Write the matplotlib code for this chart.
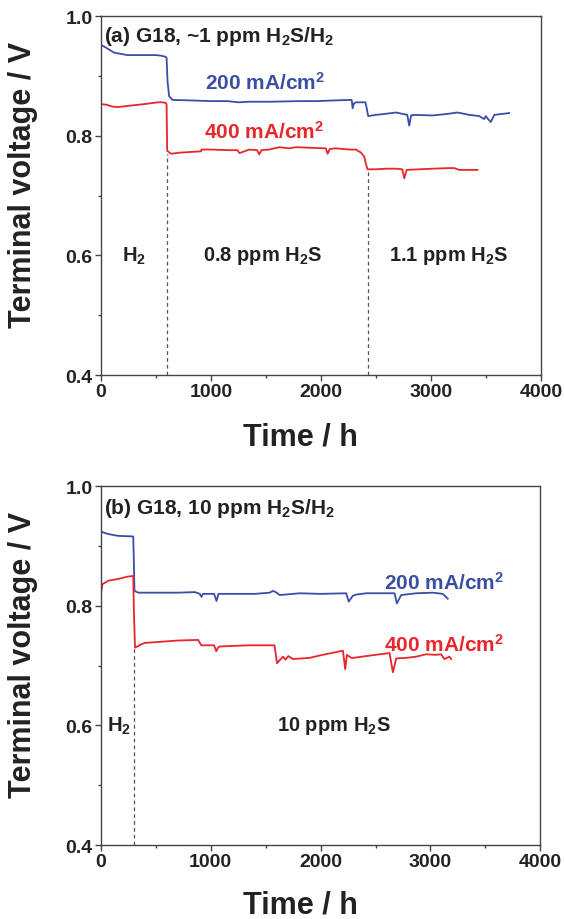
import matplotlib
matplotlib.use("Agg")
import matplotlib.pyplot as plt
from matplotlib.ticker import MultipleLocator

plt.rcParams["font.family"] = ["Liberation Sans", "DejaVu Sans"]
plt.rcParams["font.weight"] = "bold"
plt.rcParams["mathtext.fontset"] = "custom"
plt.rcParams["mathtext.rm"] = "Liberation Sans:bold"
plt.rcParams["mathtext.it"] = "Liberation Sans:bold"
plt.rcParams["mathtext.bf"] = "Liberation Sans:bold"

# (a) ~1 ppm H2S/H2
a_blue_t = [0, 40, 120, 240, 400, 500, 545, 590, 597, 605, 620, 651, 850, 1000, 1153,
            1250, 1348, 1550, 1803, 1955, 2100, 2257, 2280, 2288, 2300, 2318, 2405, 2412,
            2430, 2500, 2600, 2682, 2760, 2785, 2803, 2820, 2850, 3015, 3167, 3242, 3348,
            3439, 3485, 3500, 3515, 3545, 3576, 3621, 3712]
a_blue_v = [0.952, 0.948, 0.939, 0.935, 0.935, 0.935, 0.934, 0.932, 0.930, 0.892, 0.866,
            0.860, 0.859, 0.858, 0.858, 0.856, 0.857, 0.857, 0.858, 0.858, 0.859, 0.860,
            0.860, 0.846, 0.854, 0.856, 0.856, 0.850, 0.833, 0.835, 0.837, 0.839, 0.836,
            0.835, 0.817, 0.834, 0.835, 0.834, 0.837, 0.839, 0.835, 0.833, 0.828, 0.833,
            0.829, 0.823, 0.835, 0.836, 0.838]
a_red_t = [0, 50, 100, 151, 242, 394, 515, 560, 590, 597, 602, 636, 727, 909, 915, 1000,
           1153, 1240, 1260, 1348, 1420, 1439, 1460, 1530, 1621, 1712, 1773, 1900, 2045,
           2061, 2080, 2136, 2258, 2318, 2364, 2394, 2409, 2424, 2500, 2600, 2682, 2740,
           2758, 2780, 2894, 3015, 3167, 3212, 3258, 3424]
a_red_v = [0.853, 0.852, 0.849, 0.848, 0.850, 0.853, 0.856, 0.856, 0.855, 0.852, 0.775,
           0.770, 0.772, 0.774, 0.777, 0.777, 0.776, 0.776, 0.771, 0.777, 0.776, 0.769,
           0.776, 0.777, 0.781, 0.779, 0.781, 0.780, 0.779, 0.770, 0.778, 0.779, 0.777,
           0.777, 0.772, 0.765, 0.753, 0.744, 0.744, 0.745, 0.745, 0.744, 0.729, 0.743,
           0.744, 0.745, 0.746, 0.746, 0.743, 0.743]
a_switch_t = [597, 2424]
a_switch_v = [0.770, 0.744]

# (b) 10 ppm H2S/H2
b_blue_t = [0, 67, 158, 294, 300, 305, 340, 552, 703, 855, 900, 915, 930, 1030, 1052,
            1070, 1200, 1400, 1536, 1567, 1600, 1627, 1809, 2000, 2233, 2255, 2294, 2330,
            2415, 2673, 2694, 2733, 2870, 3021, 3112, 3157]
b_blue_v = [0.924, 0.920, 0.917, 0.916, 0.870, 0.825, 0.822, 0.822, 0.822, 0.823, 0.820,
            0.815, 0.820, 0.820, 0.808, 0.820, 0.820, 0.820, 0.822, 0.825, 0.822, 0.818,
            0.821, 0.820, 0.821, 0.807, 0.817, 0.819, 0.821, 0.821, 0.804, 0.818, 0.821,
            0.822, 0.820, 0.812]
b_red_t = [0, 12, 67, 158, 248, 294, 300, 310, 370, 400, 552, 703, 885, 900, 915, 1030,
           1050, 1065, 1080, 1200, 1355, 1567, 1580, 1603, 1627, 1658, 1680, 1706, 1748,
           1900, 1991, 2203, 2224, 2239, 2279, 2300, 2415, 2627, 2658, 2688, 2779, 2870,
           2961, 3050, 3097, 3127, 3150, 3173, 3188]
b_red_v = [0.820, 0.836, 0.842, 0.845, 0.849, 0.850, 0.790, 0.730, 0.736, 0.738, 0.740,
           0.742, 0.743, 0.738, 0.734, 0.734, 0.724, 0.730, 0.732, 0.733, 0.734, 0.734,
           0.734, 0.704, 0.709, 0.715, 0.710, 0.716, 0.711, 0.713, 0.717, 0.725, 0.694,
           0.718, 0.713, 0.713, 0.716, 0.721, 0.689, 0.712, 0.713, 0.715, 0.719, 0.718,
           0.719, 0.711, 0.713, 0.715, 0.711]
b_switch_t = [300]
b_switch_v = [0.730]

BLUE = "#3a4ea6"
RED = "#e8262b"
FRAME = "#444444"
INK = "#222222"

fig = plt.figure(figsize=(5.64, 9.2), dpi=100)
ax1 = fig.add_axes([0.179, 0.5913, 0.780, 0.390])
ax2 = fig.add_axes([0.179, 0.0804, 0.779, 0.390])


def style(ax):
    ax.set_xlim(0, 4000)
    ax.set_ylim(0.4, 1.0)
    ax.xaxis.set_major_locator(MultipleLocator(1000))
    ax.xaxis.set_minor_locator(MultipleLocator(500))
    ax.yaxis.set_major_locator(MultipleLocator(0.2))
    ax.yaxis.set_minor_locator(MultipleLocator(0.1))
    ax.yaxis.set_major_formatter(matplotlib.ticker.FormatStrFormatter("%.1f"))
    for s in ax.spines.values():
        s.set_color(FRAME)
        s.set_linewidth(1.0)
    ax.tick_params(which="both", direction="out", color=FRAME, width=1.0,
                   top=False, right=False, labelsize=14, pad=2)
    ax.tick_params(which="major", length=4)
    ax.tick_params(which="minor", length=2.5)
    for lab in ax.get_xticklabels() + ax.get_yticklabels():
        lab.set_fontweight("bold")
        lab.set_color(INK)


for ax in (ax1, ax2):
    style(ax)

# panel (a)
ax1.plot(a_blue_t, a_blue_v, color=BLUE, lw=1.3)
ax1.plot(a_red_t, a_red_v, color=RED, lw=1.3)
for t, v in zip(a_switch_t, a_switch_v):
    ax1.plot([t, t], [0.4, v], color="#555555", lw=0.9, ls=(0, (3, 2.5)))
ax1.text(25, 0.967, "(a) G18, ~1 ppm H$_2$S/H$_2$", fontsize=15, fontweight="bold",
         color=INK, va="center")
ax1.text(950, 0.890, "200 mA/cm$^2$", fontsize=15, fontweight="bold", color=BLUE, va="center")
ax1.text(935, 0.808, "400 mA/cm$^2$", fontsize=15, fontweight="bold", color=RED, va="center")
ax1.text(195, 0.6, "H$_2$", fontsize=14.5, fontweight="bold", color=INK, va="center")
ax1.text(925, 0.6, "0.8 ppm H$_2$S", fontsize=14.5, fontweight="bold", color=INK, va="center")
ax1.text(2620, 0.6, "1.1 ppm H$_2$S", fontsize=14.5, fontweight="bold", color=INK, va="center")

# panel (b)
ax2.plot(b_blue_t, b_blue_v, color=BLUE, lw=1.3)
ax2.plot(b_red_t, b_red_v, color=RED, lw=1.3)
for t, v in zip(b_switch_t, b_switch_v):
    ax2.plot([t, t], [0.4, v], color="#555555", lw=0.9, ls=(0, (3, 2.5)))
ax2.text(25, 0.965, "(b) G18, 10 ppm H$_2$S/H$_2$", fontsize=15, fontweight="bold",
         color=INK, va="center")
ax2.text(2580, 0.840, "200 mA/cm$^2$", fontsize=15, fontweight="bold", color=BLUE, va="center")
ax2.text(2580, 0.737, "400 mA/cm$^2$", fontsize=15, fontweight="bold", color=RED, va="center")
ax2.text(55, 0.6, "H$_2$", fontsize=14.5, fontweight="bold", color=INK, va="center")
ax2.text(1600, 0.6, "10 ppm H$_2$S", fontsize=14.5, fontweight="bold", color=INK, va="center")

# axis titles
for yc in (1 - 185 / 920, 1 - 655 / 920):
    fig.text(23 / 564, yc, "Terminal voltage / V", rotation=90, ha="center", va="center",
             fontsize=22, fontweight="bold", color=INK)
for yc in (1 - 438 / 920, 1 - 906 / 920):
    fig.text(300 / 564, yc, "Time / h", ha="center", va="center",
             fontsize=22, fontweight="bold", color=INK)

fig.savefig("out.png", dpi=100)
